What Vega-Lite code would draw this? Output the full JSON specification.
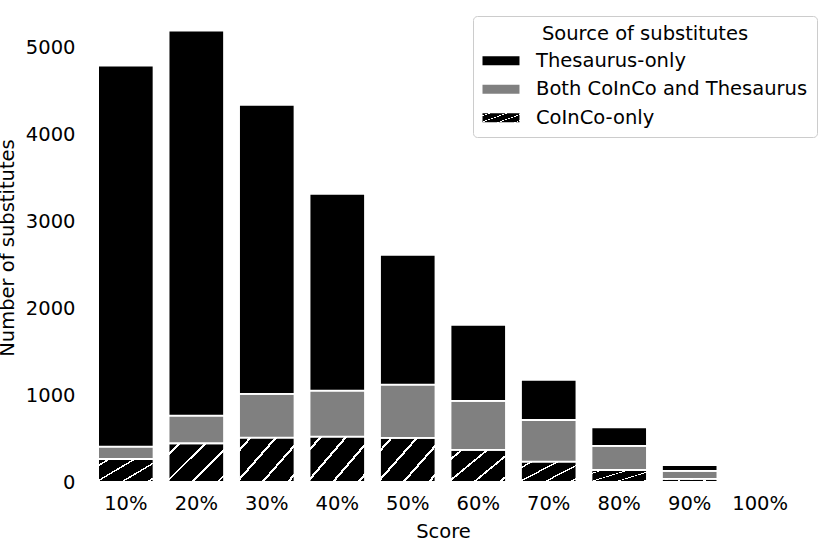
{
  "$schema": "https://vega.github.io/schema/vega-lite/v6.json",
  "width": 718,
  "height": 469,
  "autosize": {"type": "none"},
  "padding": {"left": 84, "top": 13, "right": 28, "bottom": 60},
  "background": "white",
  "config": {
    "view": {"stroke": null},
    "font": "DejaVu Sans",
    "axis": {"labelFont": "DejaVu Sans", "titleFont": "DejaVu Sans", "labelFontSize": 19.5, "titleFontSize": 19.5, "labelColor": "black", "titleColor": "black", "titleFontWeight": "normal", "domain": false, "ticks": false, "tickSize": 0, "grid": false},
    "legend": {"labelFont": "DejaVu Sans", "titleFont": "DejaVu Sans", "labelFontSize": 19.5, "titleFontSize": 19.5, "labelColor": "black", "titleColor": "black", "titleFontWeight": "normal", "labelLimit": 500, "titleLimit": 500}
  },
  "data": {
    "values": [
      {"score": "10%", "source": "CoInCo-only", "ord": 1, "count": 265},
      {"score": "10%", "source": "Both CoInCo and Thesaurus", "ord": 2, "count": 142},
      {"score": "10%", "source": "Thesaurus-only", "ord": 3, "count": 4386},
      {"score": "20%", "source": "CoInCo-only", "ord": 1, "count": 446},
      {"score": "20%", "source": "Both CoInCo and Thesaurus", "ord": 2, "count": 318},
      {"score": "20%", "source": "Thesaurus-only", "ord": 3, "count": 4432},
      {"score": "30%", "source": "CoInCo-only", "ord": 1, "count": 510},
      {"score": "30%", "source": "Both CoInCo and Thesaurus", "ord": 2, "count": 504},
      {"score": "30%", "source": "Thesaurus-only", "ord": 3, "count": 3329},
      {"score": "40%", "source": "CoInCo-only", "ord": 1, "count": 522},
      {"score": "40%", "source": "Both CoInCo and Thesaurus", "ord": 2, "count": 530},
      {"score": "40%", "source": "Thesaurus-only", "ord": 3, "count": 2266},
      {"score": "50%", "source": "CoInCo-only", "ord": 1, "count": 507},
      {"score": "50%", "source": "Both CoInCo and Thesaurus", "ord": 2, "count": 614},
      {"score": "50%", "source": "Thesaurus-only", "ord": 3, "count": 1494},
      {"score": "60%", "source": "CoInCo-only", "ord": 1, "count": 369},
      {"score": "60%", "source": "Both CoInCo and Thesaurus", "ord": 2, "count": 564},
      {"score": "60%", "source": "Thesaurus-only", "ord": 3, "count": 876},
      {"score": "70%", "source": "CoInCo-only", "ord": 1, "count": 234},
      {"score": "70%", "source": "Both CoInCo and Thesaurus", "ord": 2, "count": 480},
      {"score": "70%", "source": "Thesaurus-only", "ord": 3, "count": 461},
      {"score": "80%", "source": "CoInCo-only", "ord": 1, "count": 138},
      {"score": "80%", "source": "Both CoInCo and Thesaurus", "ord": 2, "count": 277},
      {"score": "80%", "source": "Thesaurus-only", "ord": 3, "count": 215},
      {"score": "90%", "source": "CoInCo-only", "ord": 1, "count": 35},
      {"score": "90%", "source": "Both CoInCo and Thesaurus", "ord": 2, "count": 92},
      {"score": "90%", "source": "Thesaurus-only", "ord": 3, "count": 69},
      {"score": "100%", "source": "CoInCo-only", "ord": 1, "count": 0},
      {"score": "100%", "source": "Both CoInCo and Thesaurus", "ord": 2, "count": 0},
      {"score": "100%", "source": "Thesaurus-only", "ord": 3, "count": 0}
    ]
  },
  "mark": {"type": "bar", "stroke": "white", "strokeWidth": 1.8},
  "encoding": {
    "x": {
      "field": "score", "type": "nominal", "sort": null,
      "scale": {"paddingInner": 0.213, "paddingOuter": 0.2},
      "axis": {"title": "Score", "labelAngle": 0, "labelPadding": 12, "titlePadding": 10}
    },
    "y": {
      "field": "count", "type": "quantitative", "stack": "zero",
      "scale": {"domain": [0, 5400], "nice": false},
      "axis": {"title": "Number of substitutes", "values": [0, 1000, 2000, 3000, 4000, 5000], "format": "d", "labelPadding": 9, "titlePadding": 8}
    },
    "order": {"field": "ord", "type": "quantitative", "sort": "ascending"},
    "color": {
      "field": "source", "type": "nominal",
      "scale": {
        "domain": ["Thesaurus-only", "Both CoInCo and Thesaurus", "CoInCo-only"],
        "range": ["#000000", "#808080", {"expr": "{gradient: 'linear', x1: 0, y1: 0, x2: 1.141, y2: 0.799, stops: [{offset: 0, color: '#000000'}, {offset: 0.105, color: '#000000'}, {offset: 0.105, color: '#ffffff'}, {offset: 0.135, color: '#ffffff'}, {offset: 0.135, color: '#000000'}, {offset: 0.375, color: '#000000'}, {offset: 0.375, color: '#ffffff'}, {offset: 0.405, color: '#ffffff'}, {offset: 0.405, color: '#000000'}, {offset: 0.645, color: '#000000'}, {offset: 0.645, color: '#ffffff'}, {offset: 0.675, color: '#ffffff'}, {offset: 0.675, color: '#000000'}, {offset: 0.915, color: '#000000'}, {offset: 0.915, color: '#ffffff'}, {offset: 0.945, color: '#ffffff'}, {offset: 0.945, color: '#000000'}, {offset: 1, color: '#000000'}]}"}]
      },
      "legend": {
        "title": "Source of substitutes",
        "orient": "none",
        "legendX": 389,
        "legendY": 3,
        "titleAnchor": "middle",
        "titlePadding": 6.5,
        "padding": 9,
        "rowPadding": 7.5,
        "strokeColor": "#cccccc",
        "fillColor": "white",
        "cornerRadius": 4,
        "symbolType": "M-1,-0.5H3V0.5H-1Z",
        "symbolSize": 342,
        "symbolStrokeWidth": 0,
        "symbolOpacity": 1,
        "labelOffset": 34.5
      }
    }
  }
}
